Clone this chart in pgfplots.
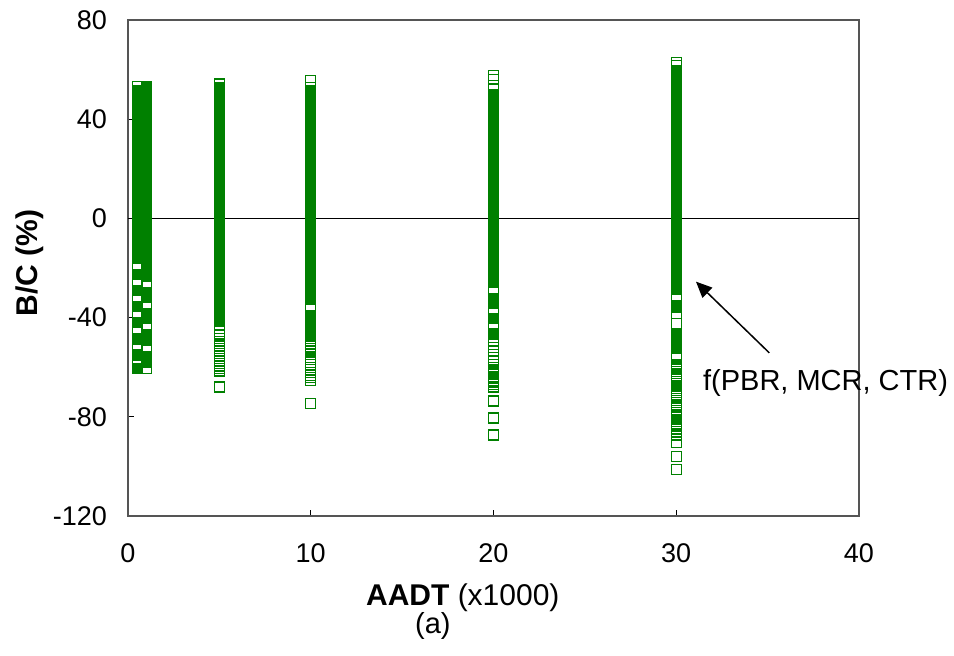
\documentclass[border=0pt]{standalone}
\usepackage{pgfplots}
\pgfplotsset{compat=1.18}
\usepackage{fontspec}
\setmainfont{Liberation Sans}
\usetikzlibrary{arrows.meta}
\definecolor{dgreen}{HTML}{008000}
\definecolor{axgray}{HTML}{555555}
\begin{document}
\begin{tikzpicture}
\begin{axis}[name=ax,
  scale only axis, width=365.5pt, height=248pt,
  xmin=0, xmax=40, ymin=-120, ymax=80,
  xtick={0,10,20,30,40}, ytick={-120,-80,-40,0,40,80},
  tick align=inside, tick pos=left, major tick length=3pt,
  axis line style={axgray, line width=0.6pt},
  tick style={black, line width=0.6pt},
  /pgf/number format/assume math mode=true,
  tick label style={font=\fontsize{13.5}{16}\selectfont},
  yticklabel style={xshift=-7pt},
  xticklabel style={yshift=-10.5pt},
  xlabel={\textbf{AADT} (x1000)},
  xlabel style={font=\fontsize{15}{18}\selectfont, at={(axis description cs:0.458,-0.165)}, anchor=center},
  ylabel={\textbf{B/C (\%)}},
  ylabel style={font=\fontsize{15}{18}\selectfont, at={(axis description cs:-0.134,0.51)}, anchor=center, rotate=0},
  clip=false,
]
% dense parts (overlapping markers form solid green)
\addplot[only marks, mark=square*, mark size=2.5pt, dgreen, line width=0.6pt, mark options={fill=dgreen}] coordinates {
(0.5,51.6)(0.5,49.6)(0.5,47.6)(0.5,45.6)(0.5,43.6)(0.5,41.6)(0.5,39.6)(0.5,37.6)(0.5,35.6)(0.5,33.6)(0.5,31.6)(0.5,29.6)(0.5,27.6)(0.5,25.6)(0.5,23.6)(0.5,21.6)(0.5,19.6)(0.5,17.6)(0.5,15.6)(0.5,13.6)(0.5,11.6)(0.5,9.6)(0.5,7.6)(0.5,5.6)(0.5,3.6)(0.5,1.6)(0.5,-0.4)(0.5,-2.4)(0.5,-4.4)(0.5,-6.4)(0.5,-8.4)(0.5,-10.4)(0.5,-12.4)(0.5,-14.4)(0.5,-16)
(0.5,-22.6)(0.5,-29.1)(0.5,-35.6)(0.5,-42.1)(0.5,-48.6)(0.5,-55.1)(0.5,-60.6)
(1,53)(1,51)(1,49)(1,47)(1,45)(1,43)(1,41)(1,39)(1,37)(1,35)(1,33)(1,31)(1,29)(1,27)(1,25)(1,23)(1,21)(1,19)(1,17)(1,15)(1,13)(1,11)(1,9)(1,7)(1,5)(1,3)(1,1)(1,-1)(1,-3)(1,-5)(1,-7)(1,-9)(1,-11)(1,-13)(1,-15)(1,-17)(1,-19)(1,-21)(1,-23.5)
(1,-30.2)(1,-32)(1,-38.7)(1,-40.5)(1,-47.2)(1,-49)(1,-55.7)(1,-58)
(5,52.6)(5,50.6)(5,48.6)(5,46.6)(5,44.6)(5,42.6)(5,40.6)(5,38.6)(5,36.6)(5,34.6)(5,32.6)(5,30.6)(5,28.6)(5,26.6)(5,24.6)(5,22.6)(5,20.6)(5,18.6)(5,16.6)(5,14.6)(5,12.6)(5,10.6)(5,8.6)(5,6.6)(5,4.6)(5,2.6)(5,0.6)(5,-1.4)(5,-3.4)(5,-5.4)(5,-7.4)(5,-9.4)(5,-11.4)(5,-13.4)(5,-15.4)(5,-17.4)(5,-19.4)(5,-21.4)(5,-23.4)(5,-25.4)(5,-27.4)(5,-29.4)(5,-31.4)(5,-33.4)(5,-35.4)(5,-37.4)(5,-39.4)(5,-41.7)
(10,51)(10,49)(10,47)(10,45)(10,43)(10,41)(10,39)(10,37)(10,35)(10,33)(10,31)(10,29)(10,27)(10,25)(10,23)(10,21)(10,19)(10,17)(10,15)(10,13)(10,11)(10,9)(10,7)(10,5)(10,3)(10,1)(10,-1)(10,-3)(10,-5)(10,-7)(10,-9)(10,-11)(10,-13)(10,-15)(10,-17)(10,-19)(10,-21)(10,-23)(10,-25)(10,-27)(10,-29)(10,-31)(10,-32.5)
(10,-39.2)(10,-41.2)(10,-43.2)(10,-45.2)(10,-47)
(20,50)(20,48)(20,46)(20,44)(20,42)(20,40)(20,38)(20,36)(20,34)(20,32)(20,30)(20,28)(20,26)(20,24)(20,22)(20,20)(20,18)(20,16)(20,14)(20,12)(20,10)(20,8)(20,6)(20,4)(20,2)(20,0)(20,-2)(20,-4)(20,-6)(20,-8)(20,-10)(20,-12)(20,-14)(20,-16)(20,-18)(20,-20)(20,-22)(20,-24)(20,-25.7)
(20,-32.4)(20,-34.2)(20,-40.5)(20,-46.85)
(30,59.5)(30,57.5)(30,55.5)(30,53.5)(30,51.5)(30,49.5)(30,47.5)(30,45.5)(30,43.5)(30,41.5)(30,39.5)(30,37.5)(30,35.5)(30,33.5)(30,31.5)(30,29.5)(30,27.5)(30,25.5)(30,23.5)(30,21.5)(30,19.5)(30,17.5)(30,15.5)(30,13.5)(30,11.5)(30,9.5)(30,7.5)(30,5.5)(30,3.5)(30,1.5)(30,-0.5)(30,-2.5)(30,-4.5)(30,-6.5)(30,-8.5)(30,-10.5)(30,-12.5)(30,-14.5)(30,-16.5)(30,-18.5)(30,-20.5)(30,-22.5)(30,-24.5)(30,-26.5)(30,-28.8)
(30,-35.75)(30,-46.5)(30,-48.5)(30,-50.5)(30,-52.6)
};
% isolated points (open squares)
\addplot[only marks, mark=square, mark size=2.5pt, dgreen, line width=0.6pt] coordinates {
(0.5,53.2)(0.5,-18.5)(0.5,-25)(0.5,-31.5)(0.5,-38)(0.5,-44.5)(0.5,-51)(0.5,-57.5)
(1,-26)(1,-34.5)(1,-43)(1,-51.5)(1,-60.5)
(5,54.2)(5,-44.5)(5,-45.7)(5,-47)(5,-48.3)(5,-49.5)(5,-50.6)(5,-51.5)(5,-52.6)(5,-53.5)(5,-54.6)(5,-55.5)(5,-56.6)(5,-57.5)(5,-58.6)(5,-59.5)(5,-60.6)(5,-61.5)(5,-68)
(10,55.5)(10,52.8)(10,-35)(10,-49.5)(10,-50.5)(10,-51.5)(10,-52.5)(10,-53.5)(10,-54.8)(10,-56)(10,-57)(10,-58)(10,-59)(10,-60)(10,-61)(10,-62)(10,-63.5)(10,-64.3)(10,-65.2)(10,-74.5)
(20,57.5)(20,56)(20,52.5)(20,-28.2)(20,-36.7)(20,-42.6)(20,-49.4)(20,-51)(20,-52)(20,-53.5)(20,-55)(20,-56.2)(20,-60)(20,-60.8)(20,-61.5)(20,-62.3)(20,-63)(20,-63.8)(20,-64.5)(20,-65.3)(20,-66)(20,-67)(20,-68)(20,-73.6)(20,-80.5)(20,-87.3)
(30,63)(30,61.5)(30,-31.3)(30,-38.5)(30,-42.3)(30,-55.1)(30,-58.8)(30,-59.5)(30,-60.3)(30,-61)(30,-61.8)(30,-62.6)(30,-63.4)(30,-64.1)(30,-64.9)(30,-65.8)(30,-66.7)(30,-67.6)(30,-68.5)(30,-69.3)(30,-70.2)(30,-71)(30,-71.9)(30,-72.7)(30,-73.5)(30,-74.3)(30,-75.2)(30,-76.2)(30,-77.3)(30,-78.3)(30,-79.3)(30,-80.1)(30,-81)(30,-81.8)(30,-82.6)(30,-83.7)(30,-84.9)(30,-86)(30,-87.3)(30,-90.2)(30,-96.1)(30,-101.2)
};
% zero line
\addplot[black, line width=0.8pt] coordinates {(0,0) (40,0)};
% annotation
\draw[black, line width=0.75pt, -{Triangle[length=8pt,width=7pt]}] (axis cs:35.09,-54.2) -- (axis cs:31.08,-25.5);
\node[anchor=base west, inner sep=0pt, font=\fontsize{14.5}{17}\selectfont] at (axis cs:31.45,-69.2) {f(PBR, MCR, CTR)};
\node[anchor=center, font=\fontsize{14.5}{17}\selectfont] at (axis description cs:0.417,-0.222) {(a)};
\end{axis}
\pgfresetboundingbox
\path[use as bounding box] (ax.south west) ++(-64pt,-69.5pt) rectangle ++(477pt,327.5pt);
\end{tikzpicture}
\end{document}
